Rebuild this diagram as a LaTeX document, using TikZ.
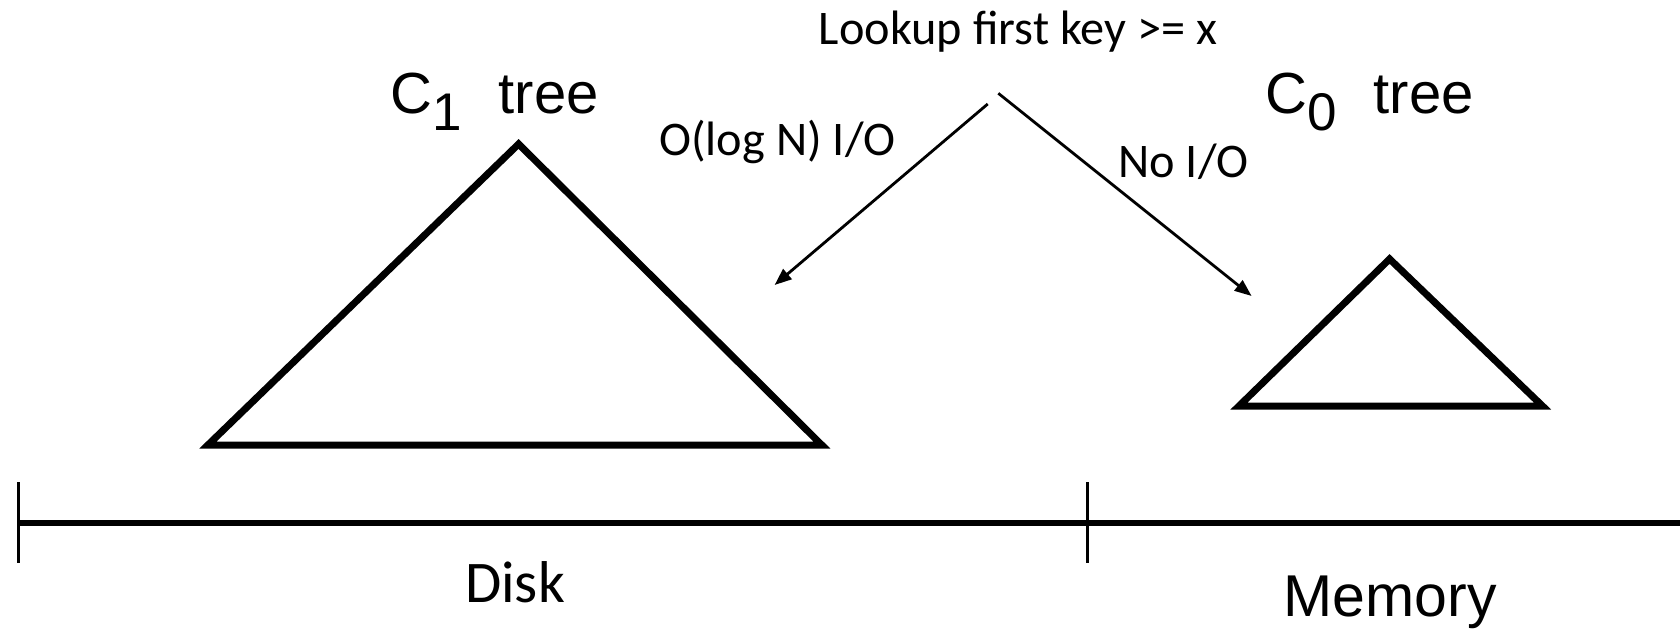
\documentclass[tikz,border=0pt]{standalone}
\usepackage{fontspec}
\setmainfont{Carlito}
\newfontfamily\arialfont{Liberation Sans}
\usetikzlibrary{arrows.meta}

\tikzset{
  calibri/.style={font=\fontsize{#1}{#1}\selectfont, inner sep=0pt, anchor=base},
  arial/.style={font=\arialfont\fontsize{#1}{#1}\selectfont, inner sep=0pt, anchor=base},
  treeshape/.style={line width=7pt, line join=miter},
  axisline/.style={line width=6pt},
  tickmark/.style={line width=3pt},
  lookuparrow/.style={line width=2.8pt, -{Triangle[length=17pt,width=13pt]}},
}

\newcommand{\treelabel}[1]{C\raisebox{-17pt}{\fontsize{53}{53}\selectfont #1}\hspace{37pt}tree}

\begin{document}
\begin{tikzpicture}[x=1pt,y=-1pt]
  \useasboundingbox (0,0) rectangle (1680,629);

  % query and its two cost labels
  \node[calibri=48.3] (lookup) at (1018,44) {Lookup first key >= x};
  \node[calibri=48.3] (cost1) at (777.5,155) {O(log N) I/O};
  \node[calibri=48.3] (cost0) at (1183.5,177) {No I/O};

  % component labels
  \node[arial=58, anchor=base west] (c1label) at (390,113) {\treelabel{1}};
  \node[arial=58, anchor=base west] (c0label) at (1265,113) {\treelabel{0}};

  % C1 tree on disk
  \draw[treeshape] (518.6,144) -- (821.8,445) -- (207.9,445) -- cycle;
  % C0 tree in memory
  \draw[treeshape] (1389.6,259) -- (1542.5,406) -- (1239,406) -- cycle;

  % lookup paths
  \coordinate (src1) at (987.7,104);
  \coordinate (src0) at (998.3,93.3);
  \coordinate (tgt1) at (774.6,285);
  \coordinate (tgt0) at (1251.6,296);
  \draw[lookuparrow] (src1) -- (tgt1);
  \draw[lookuparrow] (src0) -- (tgt0);

  % storage axis
  \coordinate (axL) at (18,523);
  \coordinate (axM) at (1087.5,523);
  \coordinate (axR) at (1680,523);
  \draw[axisline] (axL) -- (axR);
  \draw[tickmark] (18,482) -- (18,563);
  \draw[tickmark] (1087.5,482) -- (1087.5,563);

  \node[calibri=59] (disk) at (515,602) {Disk};
  \node[arial=59] (memory) at (1390,616.5) {Memory};
\end{tikzpicture}
\end{document}
